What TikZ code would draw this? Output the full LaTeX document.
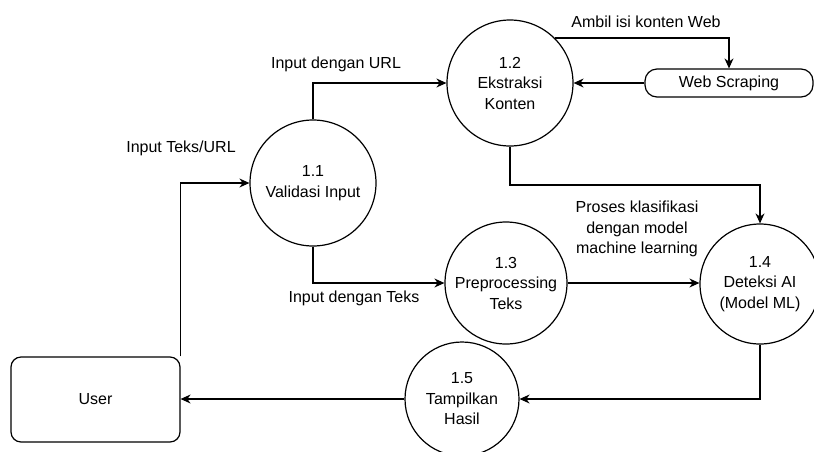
\documentclass[tikz,border=0pt]{standalone}
\usepackage{fontspec}
\setmainfont{Liberation Sans}
\usetikzlibrary{arrows.meta}
\begin{document}
\begin{tikzpicture}[x=1pt,y=-1pt,
  every node/.style={font=\fontsize{16}{20.5}\selectfont, text=black},
  proc/.style={draw, line width=1.2pt, circle, inner sep=0pt, align=center},
  ent/.style={draw, line width=1.2pt, rectangle, rounded corners=10pt, inner sep=0pt, align=center},
  lbl/.style={align=center, inner sep=0pt},
  arr/.style={draw, line width=1.2pt, -{Stealth[length=10pt,width=9pt]}}]
\useasboundingbox (0,0) rectangle (814,451);
% nodes
\node[ent, minimum width=169pt, minimum height=85pt] (user) at (95.5,399.5) {User};
\node[ent, minimum width=168pt, minimum height=28pt, rounded corners=12pt] (ws) at (729,83) {Web Scraping};
\node[proc, minimum size=126pt] (c11) at (313,183) {1.1\\Validasi Input};
\node[proc, minimum size=126pt] (c12) at (510,83) {1.2\\Ekstraksi\\Konten};
\node[proc, minimum size=122pt] (c13) at (506,283) {1.3\\Preprocessing\\Teks};
\node[proc, minimum size=120pt] (c14) at (760,284) {1.4\\Deteksi AI\\(Model ML)};
\node[proc, minimum size=114pt] (c15) at (462,399) {1.5\\Tampilkan\\Hasil};
% labels
\node[lbl] (l1) at (181,148) {Input Teks/URL};
\node[lbl] (l2) at (336,64) {Input dengan URL};
\node[lbl] (l3) at (354,298) {Input dengan Teks};
\node[lbl] (l4) at (646,22) {Ambil isi konten Web};
\node[lbl] (l5) at (637,229) {Proses klasifikasi\\dengan model\\machine learning};
% connectors
\draw[arr] (user.north east) |- (c11.west);
\draw[arr] (c11.north) |- (c12.west);
\draw[arr] (c11.south) |- (c13.west);
\draw[arr] (c12.north east) -| (ws.north);
\draw[arr] (ws.west) -- (c12.east);
\draw[arr] (c12.south) -- (c12.south |- 0,185) -| (c14.north);
\draw[arr] (c13.east) -- (c14.west |- c13.east);
\draw[arr] (c14.south) |- (c15.east);
\draw[arr] (c15.west) -- (user.east |- c15.west);
\end{tikzpicture}
\end{document}
